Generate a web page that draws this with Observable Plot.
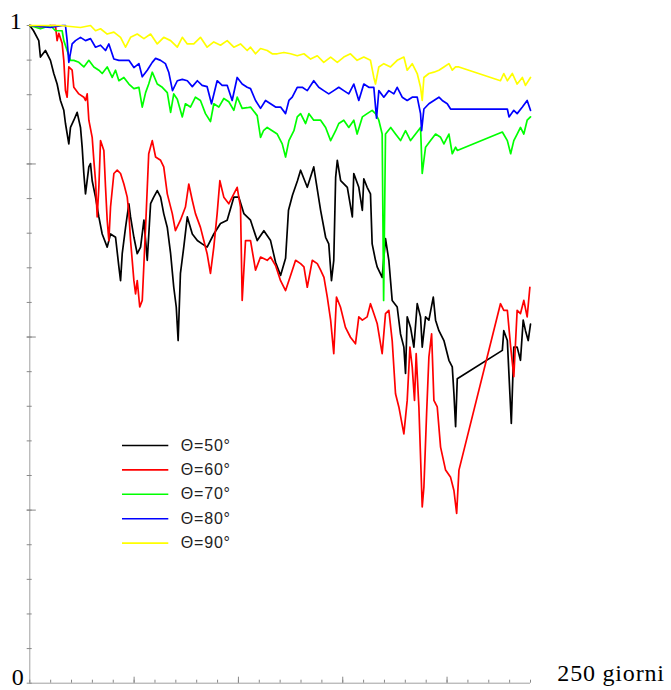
<!DOCTYPE html>
<html>
<head>
<meta charset="utf-8">
<script src="https://cdn.jsdelivr.net/npm/d3@7"></script>
<script src="https://cdn.jsdelivr.net/npm/@observablehq/plot@0.6"></script>
<style>
  html, body { margin: 0; padding: 0; background: #fff; }
  #chart svg { display: block; }
  .serif { font-family: "Liberation Serif", "Times New Roman", serif; }
  .sans { font-family: "Liberation Sans", Arial, sans-serif; }
</style>
</head>
<body>
<div id="chart"></div>
<script>
// ---- data: [day, fraction] ----
const theta50 = [[0,1.000],[1.8,0.992],[4.3,0.977],[5.1,0.952],[7.5,0.962],[9.9,0.947],[11.5,0.927],[13.1,0.911],[14.7,0.886],[16.3,0.871],[17.1,0.851],[18.7,0.820],[19.5,0.845],[21.1,0.856],[22.7,0.868],[24.3,0.845],[25.1,0.815],[25.9,0.775],[26.7,0.744],[28.3,0.785],[29.1,0.790],[29.9,0.764],[31.5,0.739],[33.1,0.709],[34.7,0.683],[37.1,0.663],[38.7,0.683],[41.1,0.678],[42.7,0.633],[43.5,0.612],[44.3,0.653],[45.9,0.693],[47.5,0.729],[48.3,0.709],[49.9,0.678],[51.5,0.653],[53.1,0.663],[54.7,0.704],[56.3,0.643],[57.9,0.729],[59.4,0.739],[61.1,0.749],[62.7,0.739],[64.2,0.714],[65.9,0.693],[67.5,0.653],[69.0,0.602],[70.2,0.572],[71.1,0.521],[72.2,0.623],[73.8,0.663],[75.5,0.709],[77.9,0.683],[80.3,0.673],[82.6,0.668],[85.0,0.663],[88.2,0.683],[91.4,0.699],[94.6,0.704],[97.8,0.739],[100.2,0.739],[102.6,0.714],[105.8,0.704],[109.0,0.673],[112.2,0.688],[115.4,0.673],[117.8,0.640],[120.2,0.620],[122.6,0.646],[124.0,0.719],[125.9,0.742],[128.3,0.764],[129.8,0.780],[133.0,0.754],[136.1,0.785],[139.4,0.719],[141.8,0.678],[143.3,0.668],[144.6,0.612],[145.7,0.643],[146.6,0.769],[147.4,0.795],[149.0,0.764],[152.2,0.754],[154.6,0.709],[155.3,0.775],[157.7,0.754],[159.4,0.719],[160.1,0.767],[161.7,0.754],[163.3,0.744],[164.1,0.668],[165.7,0.643],[166.5,0.633],[168.9,0.617],[170.5,0.676],[172.1,0.643],[173.7,0.582],[176.1,0.572],[177.7,0.531],[179.3,0.511],[180.1,0.471],[180.9,0.557],[182.5,0.541],[184.1,0.511],[185.7,0.577],[187.3,0.557],[188.1,0.511],[189.7,0.557],[191.3,0.552],[193.4,0.587],[194.5,0.552],[196.1,0.536],[198.5,0.521],[200.9,0.491],[202.5,0.481],[203.3,0.440],[204.1,0.390],[204.9,0.463],[226.5,0.506],[227.2,0.536],[228.9,0.521],[230.8,0.395],[232.0,0.511],[233.6,0.511],[235.2,0.491],[236.5,0.552],[237.6,0.536],[238.9,0.521],[240.0,0.546]];

const theta60 = [[0,1.000],[5.1,0.998],[9.9,1.000],[12.3,1.000],[13.1,0.977],[13.9,0.988],[15.5,0.973],[16.3,0.947],[17.1,0.901],[17.9,0.891],[18.7,0.937],[20.3,0.932],[21.1,0.906],[23.5,0.896],[25.9,0.891],[26.7,0.886],[27.5,0.896],[28.3,0.856],[29.9,0.830],[30.7,0.795],[31.5,0.764],[32.3,0.709],[33.1,0.754],[33.9,0.825],[35.5,0.810],[36.3,0.754],[37.1,0.704],[37.9,0.673],[38.7,0.724],[40.3,0.775],[41.9,0.780],[43.5,0.775],[45.1,0.759],[46.7,0.739],[47.5,0.714],[48.3,0.673],[49.9,0.612],[50.7,0.592],[51.5,0.612],[52.7,0.572],[53.9,0.582],[55.5,0.693],[57.0,0.805],[58.7,0.825],[60.3,0.800],[62.7,0.795],[64.2,0.785],[65.9,0.744],[68.3,0.714],[69.8,0.688],[72.2,0.704],[74.6,0.724],[76.2,0.759],[77.9,0.734],[79.4,0.714],[81.8,0.693],[83.4,0.673],[85.0,0.653],[86.6,0.623],[88.2,0.663],[89.8,0.714],[91.1,0.764],[93.0,0.739],[95.4,0.729],[97.8,0.744],[99.4,0.754],[101.0,0.724],[101.8,0.582],[103.4,0.673],[105.8,0.673],[108.2,0.628],[110.6,0.648],[113.8,0.643],[115.4,0.648],[117.8,0.635],[120.2,0.612],[122.6,0.597],[125.0,0.620],[127.4,0.643],[129.8,0.638],[131.4,0.633],[133.0,0.602],[135.4,0.643],[137.8,0.638],[139.4,0.628],[141.0,0.617],[142.6,0.587],[144.2,0.552],[145.7,0.501],[147.0,0.587],[148.9,0.572],[151.3,0.541],[153.7,0.526],[156.1,0.516],[157.7,0.557],[159.4,0.552],[161.7,0.557],[163.3,0.577],[164.9,0.562],[166.5,0.547],[168.9,0.501],[170.5,0.562],[172.1,0.567],[173.7,0.521],[175.3,0.440],[176.9,0.420],[179.3,0.379],[180.9,0.430],[182.2,0.511],[183.3,0.481],[184.4,0.430],[185.2,0.501],[186.5,0.420],[188.1,0.268],[188.9,0.298],[190.2,0.410],[191.3,0.496],[192.6,0.531],[193.7,0.430],[195.3,0.420],[196.9,0.359],[199.3,0.324],[201.7,0.313],[203.3,0.293],[204.6,0.258],[205.7,0.324],[225.6,0.577],[227.2,0.567],[228.9,0.567],[230.5,0.511],[232.0,0.466],[233.6,0.567],[235.2,0.562],[236.8,0.582],[238.4,0.557],[239.7,0.602]];

const theta70 = [[0,1.000],[5.1,0.995],[9.9,1.000],[12.3,0.992],[15.5,0.992],[16.3,0.977],[17.9,0.962],[19.5,0.947],[21.1,0.947],[23.5,0.944],[25.9,0.937],[28.3,0.947],[30.7,0.937],[33.1,0.932],[34.7,0.927],[37.1,0.937],[39.5,0.921],[41.1,0.932],[42.7,0.916],[45.1,0.921],[47.5,0.911],[49.9,0.904],[52.3,0.906],[53.9,0.876],[55.5,0.898],[57.0,0.911],[58.7,0.929],[61.1,0.911],[63.5,0.906],[65.9,0.898],[67.5,0.868],[69.0,0.896],[70.7,0.888],[73.1,0.861],[74.6,0.881],[77.0,0.876],[79.4,0.891],[81.8,0.886],[84.2,0.866],[86.6,0.854],[88.2,0.881],[90.6,0.876],[93.0,0.889],[95.4,0.884],[97.8,0.871],[99.4,0.891],[101.8,0.874],[104.2,0.875],[105.8,0.876],[109.0,0.863],[110.6,0.830],[112.0,0.840],[113.8,0.845],[116.2,0.840],[118.6,0.835],[121.0,0.820],[122.6,0.800],[124.2,0.825],[126.6,0.840],[128.2,0.861],[129.8,0.866],[132.2,0.851],[133.8,0.866],[136.1,0.856],[139.4,0.856],[141.8,0.845],[144.2,0.825],[146.6,0.840],[148.1,0.851],[150.5,0.856],[152.9,0.845],[155.3,0.856],[156.9,0.835],[159.4,0.861],[161.7,0.866],[164.1,0.871],[165.7,0.866],[167.3,0.856],[168.9,0.835],[169.6,0.582],[170.5,0.835],[173.0,0.845],[175.3,0.835],[177.7,0.825],[180.1,0.840],[182.5,0.825],[184.9,0.835],[187.3,0.845],[188.1,0.775],[189.7,0.815],[192.1,0.825],[194.5,0.835],[196.9,0.830],[198.5,0.820],[200.9,0.835],[202.5,0.805],[204.1,0.815],[204.9,0.810],[226.5,0.838],[228.9,0.825],[230.5,0.805],[232.0,0.825],[233.6,0.835],[235.2,0.845],[236.8,0.835],[238.4,0.856],[240.0,0.861]];

const theta80 = [[0,1.000],[9.9,0.997],[15.7,1.000],[17.1,1.000],[17.9,0.977],[18.7,0.944],[20.3,0.972],[21.9,0.977],[24.3,0.982],[26.7,0.977],[29.1,0.980],[31.5,0.967],[33.9,0.970],[36.3,0.962],[37.9,0.972],[40.3,0.949],[42.7,0.947],[45.1,0.947],[47.5,0.947],[49.9,0.936],[52.3,0.942],[53.9,0.922],[56.3,0.932],[58.7,0.944],[60.3,0.950],[62.7,0.947],[65.0,0.942],[66.6,0.929],[68.4,0.901],[70.7,0.916],[73.1,0.918],[75.5,0.916],[77.9,0.907],[80.3,0.916],[82.6,0.909],[85.0,0.907],[87.1,0.881],[89.8,0.916],[92.2,0.909],[94.6,0.909],[97.0,0.886],[99.4,0.921],[101.8,0.911],[104.2,0.906],[105.8,0.904],[108.2,0.886],[110.6,0.874],[113.0,0.886],[115.4,0.881],[117.8,0.876],[120.2,0.876],[122.6,0.866],[124.2,0.886],[125.8,0.891],[128.2,0.906],[130.6,0.906],[133.0,0.901],[136.1,0.916],[138.5,0.906],[140.9,0.901],[143.3,0.896],[145.7,0.901],[148.1,0.906],[150.5,0.901],[152.9,0.896],[155.3,0.911],[157.7,0.886],[160.1,0.911],[162.5,0.906],[164.9,0.906],[166.2,0.859],[167.3,0.901],[169.7,0.891],[172.1,0.901],[174.5,0.896],[176.1,0.906],[178.5,0.891],[180.9,0.886],[183.3,0.891],[185.7,0.891],[187.3,0.866],[187.8,0.840],[188.9,0.873],[191.3,0.881],[193.7,0.886],[196.1,0.891],[197.7,0.886],[200.1,0.881],[201.7,0.873],[203.3,0.873],[228.9,0.873],[229.7,0.861],[232.0,0.871],[233.6,0.866],[236.1,0.876],[238.4,0.886],[240.0,0.871]];

const theta90 = [[0,1.000],[14.7,1.000],[24.3,0.997],[29.1,1.000],[31.5,0.992],[33.9,0.995],[37.1,0.987],[40.3,0.990],[43.5,0.982],[45.9,0.967],[48.3,0.982],[51.5,0.987],[54.7,0.980],[57.9,0.987],[61.1,0.972],[64.2,0.982],[67.5,0.977],[70.7,0.967],[73.1,0.982],[75.5,0.972],[78.6,0.972],[81.8,0.982],[85.0,0.967],[88.2,0.975],[91.4,0.970],[94.6,0.977],[97.8,0.967],[101.0,0.972],[104.2,0.962],[105.8,0.967],[108.2,0.957],[110.6,0.965],[113.8,0.962],[116.2,0.957],[118.6,0.957],[121.8,0.959],[125.0,0.957],[128.2,0.954],[131.4,0.957],[134.6,0.949],[137.8,0.954],[140.9,0.944],[144.2,0.952],[147.4,0.944],[150.5,0.952],[153.7,0.957],[156.9,0.947],[160.1,0.952],[163.3,0.947],[164.9,0.921],[165.7,0.911],[167.3,0.937],[169.7,0.942],[172.9,0.937],[176.1,0.947],[179.3,0.952],[180.9,0.932],[183.3,0.942],[185.7,0.927],[187.3,0.906],[188.1,0.886],[188.9,0.921],[191.3,0.927],[193.7,0.929],[196.1,0.932],[198.5,0.937],[200.9,0.942],[202.5,0.932],[204.1,0.937],[205.7,0.937],[225.6,0.916],[227.2,0.927],[228.9,0.916],[231.3,0.927],[233.6,0.911],[236.1,0.921],[237.6,0.909],[240.0,0.921]];

const seriesLabels = ["Θ=50°", "Θ=60°", "Θ=70°", "Θ=80°", "Θ=90°"];
const seriesColors = ["#000000", "#ff0000", "#00ff00", "#0000ff", "#ffff00"];
const seriesData = [theta50, theta60, theta70, theta80, theta90];

const xTicks = [0,10,20,30,40,50,60,70,80,90,100,110,120,130,140,150,160,170,180,190,200,210,220,230,240];
const xMajorTicks = [50,100,150,200];
const yTickSteps = 19;                       // tick intervals on the vertical axis
const yMajorSteps = [5,10,15];
const yTopLabel = {v: 1, t: "1"};
const yBottomLabel = {v: 0, t: "0"};
const xAxisLabel = {v: 250, t: "250 giorni"};

// ---- chart ----
const W = 671, H = 690;
const mL = 29.3, mR = 141, mT = 25, mB = 7.3;
const pxPerDay = (W - mL - mR) / 240;
const pxPerUnit = H - mT - mB;

const yTicks = d3.range(0, yTickSteps + 1).map(k => k / yTickSteps);
const yMajor = yMajorSteps.map(k => k / yTickSteps);

const legend = seriesLabels.map((label, i) => ({label, color: seriesColors[i], i}));
const legX1 = (122 - mL) / pxPerDay, legX2 = (168.3 - mL) / pxPerDay;
const legY = i => (H - mB - (445 + i * 24.4)) / pxPerUnit;

const axisColor = "#a0a0a0";
const serifText = {className: "serif", fontSize: 24, fill: "#000", lineAnchor: "bottom"};
const marks = [
  Plot.ruleX([0], {y1: 0, y2: 1, stroke: axisColor, strokeWidth: 1}),
  Plot.ruleY([0], {x1: 0, x2: 240, stroke: axisColor, strokeWidth: 1}),
  Plot.ruleX(xTicks, {x: d => d, y1: 0, y2: 3 / pxPerUnit, stroke: "#888"}),
  Plot.ruleX(xMajorTicks, {x: d => d, y1: 0, y2: 6 / pxPerUnit, stroke: "#888"}),
  Plot.ruleY(yTicks, {y: d => d, x1: -2.6 / pxPerDay, x2: 2.4 / pxPerDay, stroke: "#888"}),
  Plot.ruleY(yMajor, {y: d => d, x1: -2.6 / pxPerDay, x2: 6.5 / pxPerDay, stroke: "#888"}),
  ...seriesData.map((data, i) => Plot.line(data, {
    x: d => d[0], y: d => d[1], stroke: seriesColors[i], strokeWidth: 1.7,
    strokeLinejoin: "round", curve: "linear"
  })),
  Plot.text([yTopLabel], {...serifText, x: 0, y: d => d.v, text: d => d.t, textAnchor: "end", dx: -8, dy: 3}),
  Plot.text([yBottomLabel], {...serifText, x: 0, y: d => d.v, text: d => d.t, textAnchor: "end", dx: -6, dy: 2}),
  Plot.text([xAxisLabel], {...serifText, x: d => d.v, y: 0, text: d => d.t, textAnchor: "start", dx: 6, dy: -2}),
  Plot.ruleY(legend, {y: d => legY(d.i), x1: legX1, x2: legX2, stroke: d => d.color, strokeWidth: 1.6}),
  Plot.text(legend, {
    x: legX2, y: d => legY(d.i), text: d => d.label, textAnchor: "start", lineAnchor: "middle",
    dx: 12, className: "sans", fontSize: 16, fill: "#222"
  })
];

const chart = Plot.plot({
  width: W, height: H,
  marginLeft: mL, marginRight: mR, marginTop: mT, marginBottom: mB,
  x: {domain: [0, 240], axis: null},
  y: {domain: [0, 1], axis: null},
  style: {background: "#fff", overflow: "visible"},
  marks
});
chart.querySelectorAll("g.serif").forEach(g => {
  g.setAttribute("font-family", "'Liberation Serif', 'Times New Roman', serif");
  g.style.fontFamily = "'Liberation Serif', 'Times New Roman', serif";
});
chart.querySelectorAll("g.sans").forEach(g => {
  g.setAttribute("font-family", "'Liberation Sans', Arial, sans-serif");
  g.style.fontFamily = "'Liberation Sans', Arial, sans-serif";
});
chart.querySelectorAll("g.sans text").forEach(t => t.setAttribute("letter-spacing", "0.8"));
chart.querySelectorAll("g.serif text").forEach(t => { if (t.textContent.length > 2) t.setAttribute("letter-spacing", "0.8"); });
document.getElementById("chart").appendChild(chart);
</script>
</body>
</html>
